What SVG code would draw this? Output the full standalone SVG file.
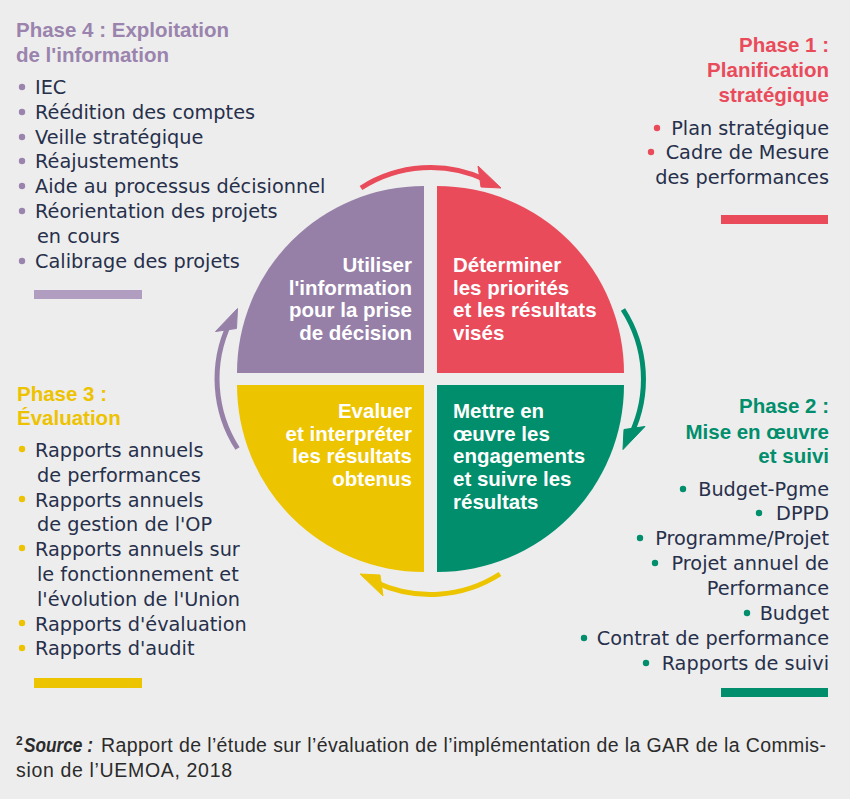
<svg xmlns="http://www.w3.org/2000/svg" width="850" height="799" viewBox="0 0 850 799">
<defs>
<style>
.ttl{font-family:"Liberation Sans",Arial,sans-serif;font-weight:bold;font-size:20.5px}
.bd{font-family:"DejaVu Sans",sans-serif;font-size:19.3px;fill:#27304b}
.q{font-family:"Liberation Sans",Arial,sans-serif;font-weight:bold;font-size:20.5px;fill:#ffffff}
.end{text-anchor:end}
.ft{font-family:"Liberation Sans",Arial,sans-serif;font-size:19.5px;fill:#2b2b2b}
.sup{font-family:"Liberation Sans",Arial,sans-serif;font-size:12px;font-weight:bold;fill:#2b2b2b}
.arr{fill:none;stroke-width:5}
</style>
<g id="arrowShape">
<path class="arr" d="M 361 188 A 129 129 0 0 1 486 180"/>
<polygon points="501,188 478,166 481,187"/>
</g>
</defs>
<rect x="0" y="0" width="850" height="799" fill="#ededed"/>

<g id="connectors">
<use href="#arrowShape" stroke="#e94b5b" fill="#e94b5b"/>
<use href="#arrowShape" stroke="#008e6c" fill="#008e6c" transform="translate(1.5,0) rotate(90 430.5 379)"/>
<use href="#arrowShape" stroke="#edc400" fill="#edc400" transform="rotate(180 430.5 381)"/>
<use href="#arrowShape" stroke="#9680a8" fill="#9680a8" transform="translate(-2,0) rotate(270 430.5 379)"/>
</g>

<g id="q-utiliser">
<path d="M 424 373 L 237 373 A 187 187 0 0 1 424 186 Z" fill="#9680a8"/>
<text class="q end" x="412" y="272">Utiliser</text>
<text class="q end" x="412" y="295">l'information</text>
<text class="q end" x="412" y="317">pour la prise</text>
<text class="q end" x="412" y="340">de décision</text>
</g>
<g id="q-determiner">
<path d="M 437 373 L 437 186 A 187 187 0 0 1 624 373 Z" fill="#e94b5b"/>
<text class="q" x="453" y="272">Déterminer</text>
<text class="q" x="453" y="295">les priorités</text>
<text class="q" x="453" y="317">et les résultats</text>
<text class="q" x="453" y="340">visés</text>
</g>
<g id="q-mettre">
<path d="M 437 385 L 624 385 A 187 187 0 0 1 437 572 Z" fill="#008e6c"/>
<text class="q" x="453" y="418">Mettre en</text>
<text class="q" x="453" y="441">œuvre les</text>
<text class="q" x="453" y="463">engagements</text>
<text class="q" x="453" y="486">et suivre les</text>
<text class="q" x="453" y="509">résultats</text>
</g>
<g id="q-evaluer">
<path d="M 424 385 L 424 572 A 187 187 0 0 1 237 385 Z" fill="#edc400"/>
<text class="q end" x="412" y="418">Evaluer</text>
<text class="q end" x="412" y="441">et interpréter</text>
<text class="q end" x="412" y="463">les résultats</text>
<text class="q end" x="412" y="486">obtenus</text>
</g>

<g id="phase4">
<text class="ttl" x="16" y="37" fill="#9a84ad">Phase 4 : Exploitation</text>
<text class="ttl" x="16" y="62" fill="#9a84ad">de l'information</text>
<g fill="#9a84ad">
<circle cx="22" cy="87" r="3.2"/><circle cx="22" cy="112" r="3.2"/><circle cx="22" cy="137" r="3.2"/><circle cx="22" cy="161" r="3.2"/><circle cx="22" cy="186" r="3.2"/><circle cx="22" cy="211" r="3.2"/><circle cx="22" cy="261" r="3.2"/>
</g>
<text class="bd" x="35" y="94">IEC</text>
<text class="bd" x="35" y="119">Réédition des comptes</text>
<text class="bd" x="35" y="144">Veille stratégique</text>
<text class="bd" x="35" y="168">Réajustements</text>
<text class="bd" x="35" y="193">Aide au processus décisionnel</text>
<text class="bd" x="35" y="218">Réorientation des projets</text>
<text class="bd" x="37" y="243">en cours</text>
<text class="bd" x="35" y="268">Calibrage des projets</text>
<rect x="34" y="290" width="108" height="9" fill="#b09dc0"/>
</g>

<g id="phase1">
<text class="ttl end" x="829" y="52" fill="#e94b5b">Phase 1 :</text>
<text class="ttl end" x="829" y="77" fill="#e94b5b">Planification</text>
<text class="ttl end" x="829" y="102" fill="#e94b5b">stratégique</text>
<g fill="#e94b5b"><circle cx="657" cy="128" r="3.2"/><circle cx="651" cy="152" r="3.2"/></g>
<text class="bd end" x="829" y="135">Plan stratégique</text>
<text class="bd end" x="829" y="159">Cadre de Mesure</text>
<text class="bd end" x="829" y="184">des performances</text>
<rect x="721" y="215" width="107" height="9" fill="#e94b5b"/>
</g>

<g id="phase2">
<text class="ttl end" x="829" y="413" fill="#008e6c">Phase 2 :</text>
<text class="ttl end" x="829" y="439" fill="#008e6c">Mise en œuvre</text>
<text class="ttl end" x="829" y="463" fill="#008e6c">et suivi</text>
<g fill="#008e6c">
<circle cx="683" cy="489" r="3.2"/><circle cx="759" cy="513" r="3.2"/><circle cx="640" cy="538" r="3.2"/><circle cx="655" cy="563" r="3.2"/><circle cx="747" cy="613" r="3.2"/><circle cx="584" cy="638" r="3.2"/><circle cx="646" cy="663" r="3.2"/>
</g>
<text class="bd end" x="829" y="496">Budget-Pgme</text>
<text class="bd end" x="829" y="520">DPPD</text>
<text class="bd end" x="829" y="545">Programme/Projet</text>
<text class="bd end" x="829" y="570">Projet annuel de</text>
<text class="bd end" x="829" y="595">Performance</text>
<text class="bd end" x="829" y="620">Budget</text>
<text class="bd end" x="829" y="645">Contrat de performance</text>
<text class="bd end" x="829" y="670">Rapports de suivi</text>
<rect x="721" y="688" width="107" height="9" fill="#008e6c"/>
</g>

<g id="phase3">
<text class="ttl" x="17" y="401" fill="#edc200">Phase 3 :</text>
<text class="ttl" x="17" y="425" fill="#edc200">Évaluation</text>
<g fill="#edc200">
<circle cx="22" cy="449" r="3.2"/><circle cx="22" cy="499" r="3.2"/><circle cx="22" cy="548" r="3.2"/><circle cx="22" cy="623" r="3.2"/><circle cx="22" cy="648" r="3.2"/>
</g>
<text class="bd" x="35" y="457">Rapports annuels</text>
<text class="bd" x="37" y="482">de performances</text>
<text class="bd" x="35" y="507">Rapports annuels</text>
<text class="bd" x="37" y="531">de gestion de l'OP</text>
<text class="bd" x="35" y="556">Rapports annuels sur</text>
<text class="bd" x="37" y="581">le fonctionnement et</text>
<text class="bd" x="37" y="606">l'évolution de l'Union</text>
<text class="bd" x="35" y="631">Rapports d'évaluation</text>
<text class="bd" x="35" y="655">Rapports d'audit</text>
<rect x="34" y="678" width="108" height="10" fill="#edc400"/>
</g>

<g id="footer">
<text class="sup" x="16" y="745">2</text>
<text class="ft" x="24" y="752" font-weight="bold" font-style="italic" textLength="69" lengthAdjust="spacingAndGlyphs">Source :</text>
<text class="ft" x="101" y="752" textLength="725" lengthAdjust="spacing">Rapport de l’étude sur l’évaluation de l’implémentation de la GAR de la Commis-</text>
<text class="ft" x="16" y="777" textLength="216" lengthAdjust="spacing">sion de l’UEMOA, 2018</text>
</g>
</svg>
